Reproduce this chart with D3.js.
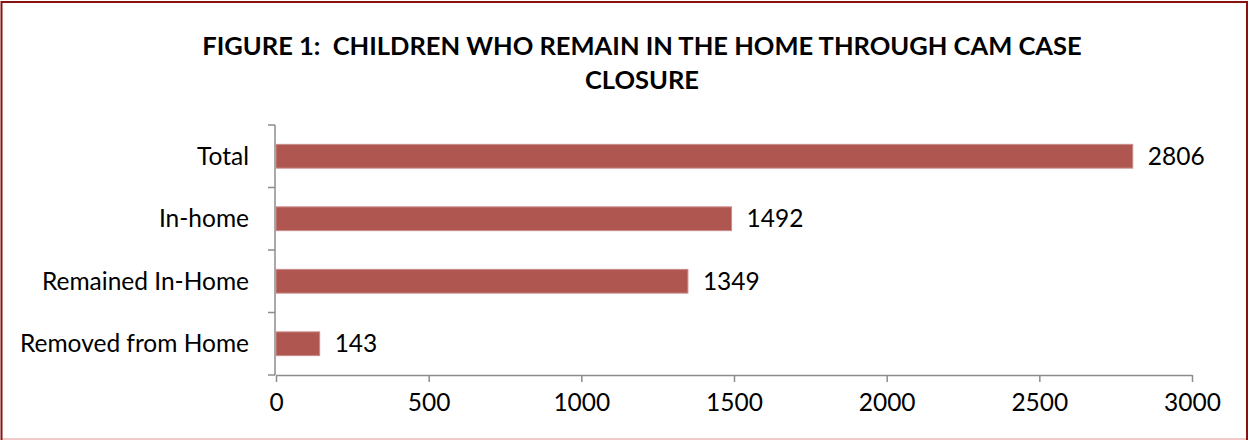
<!DOCTYPE html>
<html>
<head>
<meta charset="utf-8">
<script src="https://d3js.org/d3.v7.min.js"></script>
<style>
  body { margin: 0; background: #fff; }
  text { font-family: Lato, "Open Sans", sans-serif; white-space: pre; }
</style>
</head>
<body>
<div id="chart"></div>
<script>
var w = 1249;
var h = 441;

var categories = ["Total", "In-home", "Remained In-Home", "Removed from Home"];
var values = [2806, 1492, 1349, 143];
var xTicks = [0, 500, 1000, 1500, 2000, 2500, 3000];
var titleLines = ["FIGURE 1:  CHILDREN WHO REMAIN IN THE HOME THROUGH CAM CASE", "CLOSURE"];

var margin = {left: 276, right: 57, top: 125, bottom: 66};
var fontSize = "24.5px";

var svg = d3.select("#chart")
    .append("svg")
    .attr("width", w)
    .attr("height", h);

// frame
svg.append("line").attr("x1", 1).attr("y1", 439).attr("x2", 1248).attr("y2", 439)
    .attr("stroke", "#f0c8c8").attr("stroke-width", 2);
svg.append("path")
    .attr("d", "M1.5,440 L1.5,2 L1247,2 L1247,440")
    .attr("fill", "none").attr("stroke", "#8b1010").attr("stroke-width", 2);

svg.selectAll(".title")
    .data(titleLines)
    .enter()
    .append("text")
    .attr("x", 642)
    .attr("y", function(d, i) { return 55 + i * 34; })
    .attr("text-anchor", "middle")
    .attr("font-size", "25.5px")
    .attr("font-weight", "bold")
    .text(function(d) { return d; });

var x = d3.scaleLinear()
    .domain([0, 3000])
    .range([margin.left, w - margin.right]);

var y = d3.scaleBand()
    .domain(categories)
    .range([margin.top, h - margin.bottom])
    .paddingInner(0.62)
    .paddingOuter(0.31);

var yAxisScale = d3.scaleLinear().domain([0, 4]).range([margin.top, h - margin.bottom]);

// y axis with ticks between categories
var yAxis = svg.append("g");
yAxis.append("line")
    .attr("x1", margin.left - 1).attr("x2", margin.left - 1)
    .attr("y1", margin.top).attr("y2", h - margin.bottom)
    .attr("stroke", "#8c8c8c").attr("stroke-width", 1.5);
yAxis.selectAll(".yt")
    .data(d3.range(5))
    .enter()
    .append("line")
    .attr("x1", margin.left - 8).attr("x2", margin.left - 1)
    .attr("y1", function(d) { return yAxisScale(d); })
    .attr("y2", function(d) { return yAxisScale(d); })
    .attr("stroke", "#8c8c8c").attr("stroke-width", 1.5);
yAxis.selectAll(".ylab")
    .data(categories)
    .enter()
    .append("text")
    .attr("x", margin.left - 27)
    .attr("y", function(d) { return y(d) + y.bandwidth() / 2; })
    .attr("dy", "0.35em")
    .attr("text-anchor", "end")
    .attr("font-size", fontSize)
    .text(function(d) { return d; });

// x axis
var xAxis = svg.append("g")
    .attr("transform", "translate(0," + (h - margin.bottom) + ")")
    .call(d3.axisBottom(x).tickValues(xTicks).tickFormat(d3.format("d"))
        .tickSize(7).tickPadding(12).tickSizeOuter(0));
xAxis.select(".domain").attr("stroke", "#8c8c8c").attr("stroke-width", 1.5);
xAxis.selectAll(".tick line").attr("stroke", "#8c8c8c").attr("stroke-width", 1.5);
xAxis.selectAll(".tick text")
    .attr("font-size", fontSize)
    .attr("font-family", "Lato, 'Open Sans', sans-serif")
    .attr("fill", "#000");

// bars
svg.selectAll(".bar")
    .data(values)
    .enter()
    .append("rect")
    .attr("x", x(0))
    .attr("y", function(d, i) { return y(categories[i]); })
    .attr("width", function(d) { return x(d) - x(0); })
    .attr("height", y.bandwidth())
    .attr("fill", "#b05651")
    .attr("stroke", "#c98b88")
    .attr("stroke-width", 1);

svg.selectAll(".val")
    .data(values)
    .enter()
    .append("text")
    .attr("x", function(d) { return x(d) + 15; })
    .attr("y", function(d, i) { return y(categories[i]) + y.bandwidth() / 2; })
    .attr("dy", "0.35em")
    .attr("font-size", fontSize)
    .text(function(d) { return d; });
</script>
</body>
</html>
